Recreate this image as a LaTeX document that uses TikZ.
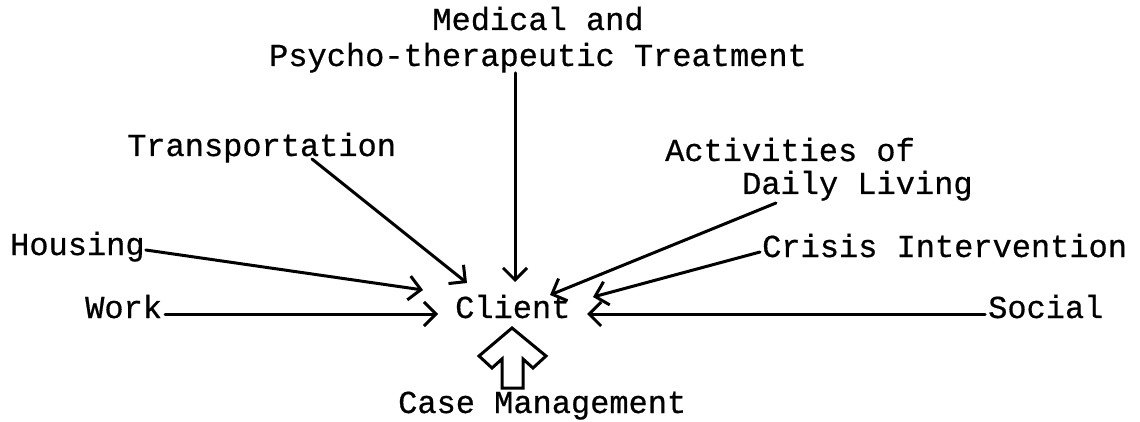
\documentclass[tikz,border=0pt]{standalone}
\usepackage{fontspec}
\setmainfont{Liberation Mono}[FakeBold=0.6]
\usetikzlibrary{arrows.meta}
\tikzset{
  lbl/.style={inner sep=0pt, anchor=base west, font=\fontsize{32}{38}\selectfont},
  lblc/.style={lbl, anchor=base},
  conn/.style={line width=3pt, line cap=round, line join=round,
    -{Straight Barb[length=12pt,width=24pt,line width=3pt]}},
  hollow/.style={line width=3pt, line join=miter}
}
\begin{document}
\begin{tikzpicture}[x=1pt,y=-1pt]
\useasboundingbox (0,0) rectangle (1140,422);
% labels
\node[lblc] (med) at (538,30) {Medical and};
\node[lblc] (psy) at (538,66) {Psycho-therapeutic Treatment};
\node[lbl] (trans) at (127,156) {Transportation};
\node[lbl] (act) at (665,161) {Activities of};
\node[lbl] (adl) at (742,194) {Daily Living};
\node[lbl] (hous) at (10,255) {Housing};
\node[lbl] (cris) at (762,257) {Crisis Intervention};
\node[lbl] (work) at (85,318) {Work};
\node[lbl] (client) at (455,318) {Client};
\node[lbl] (soc) at (988,318) {Social};
\node[lbl] (cm) at (398,413) {Case Management};
% arrow tips near the client
\coordinate (tMed) at (515,282);
\coordinate (tTrans) at (467,283);
\coordinate (tHous) at (423,290);
\coordinate (tWork) at (438,314);
\coordinate (tAdl) at (550,295);
\coordinate (tCris) at (593,297);
\coordinate (tSoc) at (587,314);
% connectors
\draw[conn] (psy.south -| tMed) -- (tMed);
\draw[conn] ([xshift=185pt,yshift=-3pt]trans.base west) -- (tTrans);
\draw[conn] ([xshift=1pt,yshift=5pt]hous.base east) -- (tHous);
\draw[conn] ([xshift=3pt,yshift=4pt]work.base east) -- (tWork);
\draw[conn] ([xshift=34pt,yshift=-9pt]adl.base west) -- (tAdl);
\draw[conn] ([xshift=-2pt,yshift=5pt]cris.base west) -- (tCris);
\draw[conn] ([xshift=-3pt,yshift=4pt]soc.base west) -- (tSoc);
% hollow arrow from case management
\draw[hollow] (512,328) -- (546,356) -- (533,368) -- (523,359) -- (523,388)
  -- (502,388) -- (502,359) -- (492,368) -- (479,356) -- cycle;
\end{tikzpicture}
\end{document}
